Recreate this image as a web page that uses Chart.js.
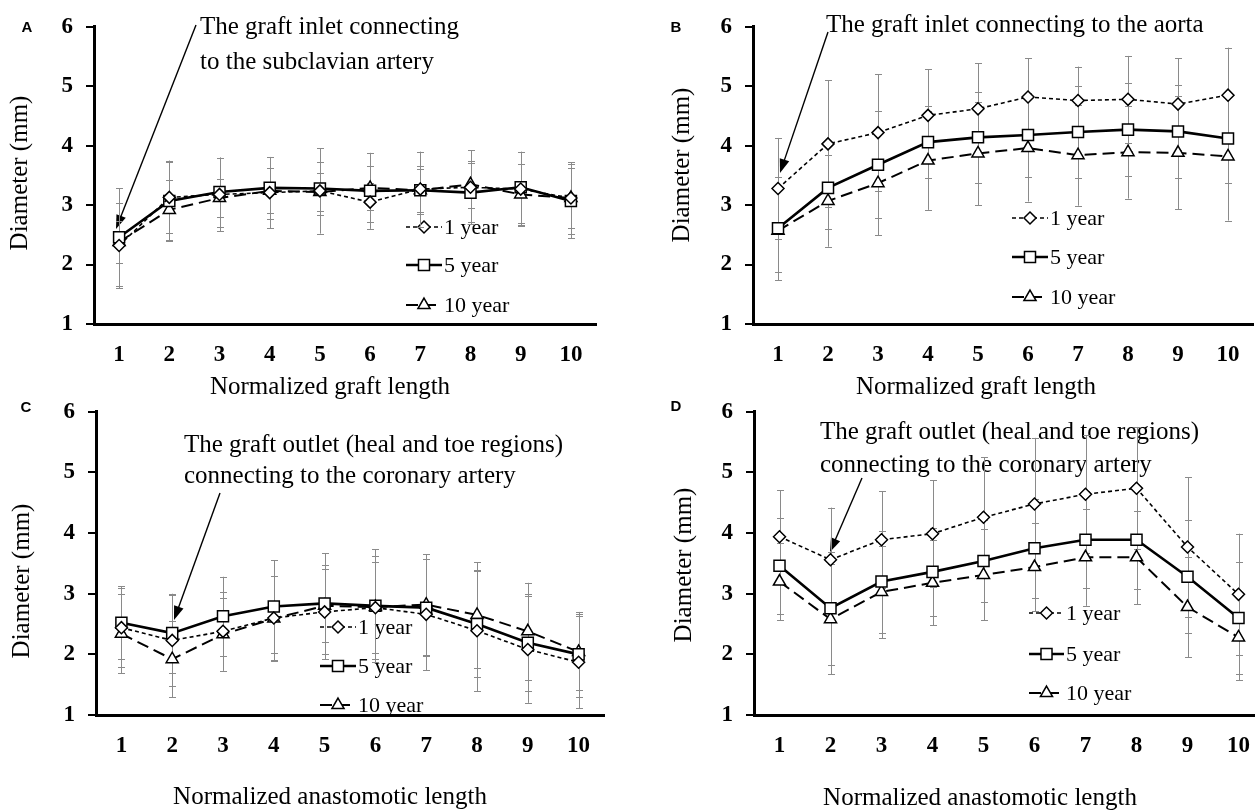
<!DOCTYPE html>
<html><head><meta charset="utf-8">
<script src="https://cdn.jsdelivr.net/npm/chart.js@4.4.0/dist/chart.umd.min.js"></script>
<style>
html,body{margin:0;padding:0;background:#fff;width:1255px;height:811px;overflow:hidden;position:relative;}
canvas{position:absolute;}
</style></head><body>
<canvas id="cA"></canvas><canvas id="cB"></canvas><canvas id="cC"></canvas><canvas id="cD"></canvas>
<script>
const categories = ['1','2','3','4','5','6','7','8','9','10'];
const seriesNames = ['1 year','5 year','10 year'];
const yMin = 1, yMax = 6, yStep = 1;

const A_1yr  = [2.32, 3.13, 3.18, 3.21, 3.24, 3.05, 3.27, 3.30, 3.27, 3.12];
const A_5yr  = [2.46, 3.07, 3.22, 3.29, 3.28, 3.24, 3.25, 3.21, 3.30, 3.07];
const A_10yr = [2.38, 2.92, 3.12, 3.24, 3.22, 3.29, 3.25, 3.35, 3.18, 3.12];
const A_1yr_sd  = [0.72, 0.60, 0.62, 0.60, 0.72, 0.33, 0.63, 0.62, 0.62, 0.60];
const A_5yr_sd  = [0.82, 0.68, 0.58, 0.52, 0.45, 0.64, 0.40, 0.50, 0.60, 0.63];
const A_10yr_sd = [0.35, 0.50, 0.32, 0.38, 0.32, 0.37, 0.36, 0.40, 0.52, 0.50];

const B_1yr  = [3.28, 4.03, 4.22, 4.51, 4.62, 4.82, 4.76, 4.78, 4.70, 4.85];
const B_5yr  = [2.61, 3.29, 3.68, 4.06, 4.14, 4.18, 4.23, 4.27, 4.24, 4.12];
const B_10yr = [2.57, 3.07, 3.37, 3.75, 3.87, 3.96, 3.84, 3.89, 3.88, 3.82];
const B_1yr_sd  = [0.85, 1.07, 0.98, 0.78, 0.77, 0.65, 0.57, 0.73, 0.77, 0.80];
const B_5yr_sd  = [0.87, 0.70, 0.90, 0.60, 0.77, 0.70, 0.77, 0.78, 0.78, 0.75];
const B_10yr_sd = [0.70, 0.77, 0.88, 0.83, 0.87, 0.90, 0.85, 0.78, 0.95, 1.08];

const C_1yr  = [2.44, 2.23, 2.38, 2.60, 2.70, 2.77, 2.66, 2.39, 2.08, 1.87];
const C_5yr  = [2.52, 2.35, 2.63, 2.79, 2.84, 2.80, 2.77, 2.50, 2.19, 2.00];
const C_10yr = [2.34, 1.92, 2.33, 2.59, 2.80, 2.78, 2.82, 2.65, 2.38, 2.04];
const C_1yr_sd  = [0.65, 0.75, 0.65, 0.70, 0.78, 0.85, 0.92, 1.00, 0.88, 0.76];
const C_5yr_sd  = [0.60, 0.65, 0.65, 0.76, 0.83, 0.93, 0.80, 0.88, 0.80, 0.70];
const C_10yr_sd = [0.65, 0.63, 0.60, 0.70, 0.60, 0.75, 0.83, 0.87, 0.80, 0.62];

const D_1yr  = [3.94, 3.56, 3.89, 3.99, 4.26, 4.48, 4.64, 4.74, 3.77, 2.99];
const D_5yr  = [3.46, 2.76, 3.20, 3.36, 3.54, 3.75, 3.89, 3.89, 3.28, 2.60];
const D_10yr = [3.20, 2.58, 3.03, 3.18, 3.31, 3.44, 3.60, 3.60, 2.78, 2.28];
const D_1yr_sd  = [0.77, 0.86, 0.80, 0.88, 0.99, 1.09, 0.97, 1.01, 1.15, 1.00];
const D_5yr_sd  = [0.79, 0.93, 0.84, 0.72, 0.68, 0.82, 0.80, 0.82, 0.93, 0.92];
const D_10yr_sd = [0.64, 0.91, 0.76, 0.70, 0.75, 0.73, 0.80, 0.77, 0.83, 0.71];

const SERIF = '"Liberation Serif", "Times New Roman", serif';
const SANS = '"Liberation Sans", Arial, sans-serif';

const panels = [
  {id:'cA', left:0, top:0, w:627, h:400, area:{l:94,r:596,t:21,b:324},
   series:[A_1yr,A_5yr,A_10yr], sds:[A_1yr_sd,A_5yr_sd,A_10yr_sd],
   letter:{t:'A',x:27,y:28}, ytitle:{t:'Diameter (mm)',x:20,y:173}, xtitle:{t:'Normalized graft length',x:330,y:387},
   notes:[{t:'The graft inlet connecting',x:200,y:27},{t:'to the subclavian artery',x:200,y:62}],
   arrow:{x1:196,y1:25,x2:116,y2:229},
   legend:{lx1:406,lx2:442,tx:444,ys:[227,265,305]}},
  {id:'cB', left:627, top:0, w:650, h:400, area:{l:753,r:1253,t:21,b:324},
   series:[B_1yr,B_5yr,B_10yr], sds:[B_1yr_sd,B_5yr_sd,B_10yr_sd],
   letter:{t:'B',x:676,y:28}, ytitle:{t:'Diameter (mm)',x:682,y:165}, xtitle:{t:'Normalized graft length',x:976,y:387},
   notes:[{t:'The graft inlet connecting to the aorta',x:826,y:25}],
   arrow:{x1:828,y1:32,x2:780,y2:173},
   legend:{lx1:1012,lx2:1048,tx:1050,ys:[218,257,297]}},
  {id:'cC', left:0, top:385, w:627, h:426, area:{l:96,r:604,t:407,b:715},
   series:[C_1yr,C_5yr,C_10yr], sds:[C_1yr_sd,C_5yr_sd,C_10yr_sd],
   letter:{t:'C',x:26,y:408}, ytitle:{t:'Diameter (mm)',x:22,y:581}, xtitle:{t:'Normalized anastomotic length',x:330,y:797},
   notes:[{t:'The graft outlet (heal and toe regions)',x:184,y:445},{t:'connecting to the coronary artery',x:184,y:476}],
   arrow:{x1:220,y1:493,x2:174,y2:620},
   legend:{lx1:320,lx2:356,tx:358,ys:[627,666,705]}},
  {id:'cD', left:627, top:385, w:660, h:426, area:{l:754,r:1264,t:407,b:715},
   series:[D_1yr,D_5yr,D_10yr], sds:[D_1yr_sd,D_5yr_sd,D_10yr_sd],
   letter:{t:'D',x:676,y:407}, ytitle:{t:'Diameter (mm)',x:684,y:565}, xtitle:{t:'Normalized anastomotic length',x:980,y:798},
   notes:[{t:'The graft outlet (heal and toe regions)',x:820,y:432},{t:'connecting to the coronary artery',x:820,y:465}],
   arrow:{x1:862,y1:478,x2:830,y2:552},
   legend:{lx1:1029,lx2:1064,tx:1066,ys:[613,654,693]}}
];

const styles = [
  {dash:[4,3], width:1.6, point:'rectRot', radius:6},
  {dash:[], width:2.6, point:'rect', radius:7.8},
  {dash:[12,6], width:2, point:'triangle', radius:7}
];

function drawMarker(ctx, style, r, x, y){
  ctx.save();
  ctx.beginPath();
  if (style === 'rectRot'){
    ctx.moveTo(x, y - r); ctx.lineTo(x + r, y); ctx.lineTo(x, y + r); ctx.lineTo(x - r, y);
  } else if (style === 'rect'){
    const s = r * Math.SQRT1_2; ctx.rect(x - s, y - s, 2*s, 2*s);
  } else {
    ctx.moveTo(x, y - r);
    ctx.lineTo(x + r*Math.sin(2*Math.PI/3), y - r*Math.cos(2*Math.PI/3));
    ctx.lineTo(x - r*Math.sin(2*Math.PI/3), y - r*Math.cos(2*Math.PI/3));
  }
  ctx.closePath();
  ctx.fillStyle = '#fff'; ctx.fill();
  ctx.setLineDash([]); ctx.lineWidth = 1.5; ctx.strokeStyle = '#000'; ctx.stroke();
  ctx.restore();
}

const decorPlugin = {
  id: 'decor',
  beforeDatasetsDraw(chart, args, opts) {
    const p = opts.panel; if (!p) return;
    const ctx = chart.ctx;
    const ox = p.left, oy = p.top;
    ctx.save();
    ctx.fillStyle = '#000';
    ctx.textBaseline = 'middle';
    // panel letter
    ctx.font = 'bold 15px ' + SANS; ctx.textAlign = 'center';
    ctx.fillText(p.letter.t, p.letter.x - ox, p.letter.y - oy);
    // axis titles
    ctx.font = '25px ' + SERIF;
    ctx.fillText(p.xtitle.t, p.xtitle.x - ox, p.xtitle.y - oy);
    ctx.save();
    ctx.translate(p.ytitle.x - ox, p.ytitle.y - oy); ctx.rotate(-Math.PI/2);
    ctx.fillText(p.ytitle.t, 0, 0);
    ctx.restore();
    // annotations
    ctx.textAlign = 'left';
    p.notes.forEach(n => ctx.fillText(n.t, n.x - ox, n.y - oy));
    // arrow
    const a = p.arrow;
    const x1 = a.x1 - ox, y1 = a.y1 - oy, x2 = a.x2 - ox, y2 = a.y2 - oy;
    const ang = Math.atan2(y2 - y1, x2 - x1);
    const hl = 14, hw = 5;
    ctx.strokeStyle = '#000'; ctx.lineWidth = 1.4;
    ctx.beginPath(); ctx.moveTo(x1, y1);
    ctx.lineTo(x2 - Math.cos(ang)*hl*0.8, y2 - Math.sin(ang)*hl*0.8); ctx.stroke();
    ctx.beginPath();
    ctx.moveTo(x2, y2);
    ctx.lineTo(x2 - Math.cos(ang)*hl + Math.sin(ang)*hw, y2 - Math.sin(ang)*hl - Math.cos(ang)*hw);
    ctx.lineTo(x2 - Math.cos(ang)*hl - Math.sin(ang)*hw, y2 - Math.sin(ang)*hl + Math.cos(ang)*hw);
    ctx.closePath(); ctx.fill();
    // legend
    const L = p.legend;
    chart.data.datasets.forEach((ds, i) => {
      const y = L.ys[i] - oy;
      ctx.save();
      ctx.strokeStyle = '#000'; ctx.lineWidth = styles[i].width; ctx.setLineDash(styles[i].dash);
      ctx.beginPath(); ctx.moveTo(L.lx1 - ox, y); ctx.lineTo(L.lx2 - ox, y); ctx.stroke();
      ctx.restore();
      drawMarker(ctx, styles[i].point, styles[i].radius, (L.lx1 + L.lx2)/2 - ox, y);
      ctx.font = '22px ' + SERIF; ctx.fillStyle = '#000'; ctx.textAlign = 'left';
      ctx.fillText(ds.label, L.tx - ox, y + 1);
    });
    ctx.restore();
  }
};

const errorBarPlugin = {
  id: 'errorBars',
  beforeDatasetsDraw(chart) {
    const ctx = chart.ctx, ys = chart.scales.y;
    ctx.save();
    ctx.strokeStyle = '#8a8a8a'; ctx.lineWidth = 1;
    chart.data.datasets.forEach((ds, di) => {
      const meta = chart.getDatasetMeta(di);
      meta.data.forEach((pt, i) => {
        const v = ds.data[i], e = ds.errors[i];
        const x = Math.round(pt.x) + 0.5;
        const yt = ys.getPixelForValue(v + e), yb = ys.getPixelForValue(v - e);
        ctx.beginPath();
        ctx.moveTo(x, yt); ctx.lineTo(x, yb);
        ctx.moveTo(x - 3.5, Math.round(yt) + 0.5); ctx.lineTo(x + 3.5, Math.round(yt) + 0.5);
        ctx.moveTo(x - 3.5, Math.round(yb) + 0.5); ctx.lineTo(x + 3.5, Math.round(yb) + 0.5);
        ctx.stroke();
      });
    });
    ctx.restore();
  }
};

panels.forEach(p => {
  const cv = document.getElementById(p.id);
  cv.width = p.w; cv.height = p.h;
  cv.style.left = p.left + 'px'; cv.style.top = p.top + 'px';
  cv.style.width = p.w + 'px'; cv.style.height = p.h + 'px';
  const a = {l: p.area.l - p.left, r: p.area.r - p.left, t: p.area.t - p.top, b: p.area.b - p.top};
  new Chart(cv, {
    type: 'line',
    data: {
      labels: categories,
      datasets: p.series.map((s, i) => ({
        label: seriesNames[i], data: s, errors: p.sds[i],
        borderColor: '#000', borderWidth: styles[i].width, borderDash: styles[i].dash,
        pointStyle: styles[i].point, pointRadius: styles[i].radius,
        pointBackgroundColor: '#fff', pointBorderColor: '#000', pointBorderWidth: 1.5,
        fill: false, tension: 0
      }))
    },
    options: {
      responsive: false, animation: false, events: [], devicePixelRatio: 1,
      layout: {padding: {left: 0, top: a.t, right: p.w - a.r, bottom: 0}},
      plugins: {legend: {display: false}, tooltip: {enabled: false}, decor: {panel: p}},
      scales: {
        x: {
          type: 'category', offset: true,
          grid: {display: false, drawTicks: false},
          border: {display: true, color: '#000', width: 3},
          ticks: {color: '#000', font: {family: SERIF, size: 23, weight: 'bold'}, padding: 17, maxRotation: 0, autoSkip: false},
          afterFit: s => { s.height = p.h - (p.area.b - p.top); }
        },
        y: {
          min: yMin, max: yMax,
          ticks: {stepSize: yStep, color: '#000', font: {family: SERIF, size: 23, weight: 'bold'}, padding: 13},
          grid: {drawOnChartArea: false, drawTicks: true, tickLength: 8, color: '#000', lineWidth: 2},
          border: {display: true, color: '#000', width: 3},
          afterFit: s => { s.width = a.l; }
        }
      }
    },
    plugins: [decorPlugin, errorBarPlugin]
  });
});
</script>
</body></html>
